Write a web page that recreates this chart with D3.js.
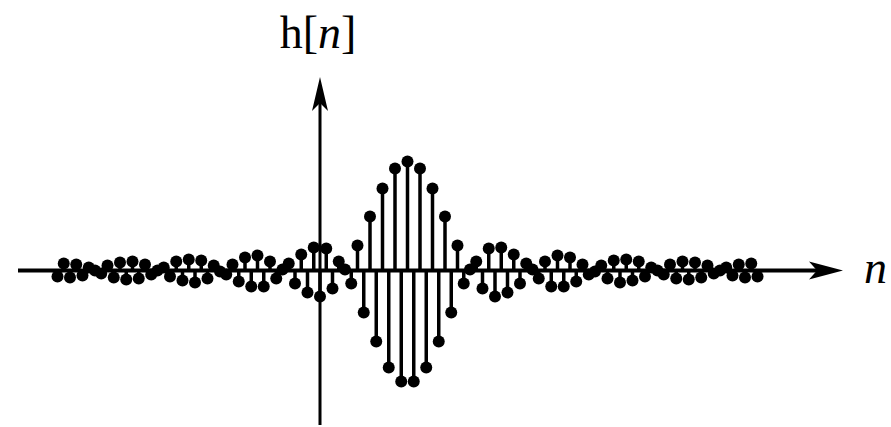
<!DOCTYPE html>
<html>
<head>
<meta charset="utf-8">
<script src="https://cdn.jsdelivr.net/npm/d3@7"></script>
<style>
  body { margin: 0; background: #fff; }
  svg { display: block; }
</style>
</head>
<body>
<div id="chart"></div>
<script>
// sample index of the first stem; the plot runs from n = -42 to n = 70
const firstN = -42;
// h[n], left to right
const hValues = [
  -0.06, 0.07, -0.07, 0.06, -0.05, 0.03, 0.00, -0.03, 0.05, -0.07,
  0.08, -0.09, 0.09, -0.08, 0.06, -0.04, 0.00, 0.03, -0.06, 0.09,
  -0.10, 0.11, -0.12, 0.10, -0.08, 0.05, -0.01, -0.04, 0.06, -0.11,
  0.13, -0.16, 0.15, -0.16, 0.09, -0.08, 0.01, 0.07, -0.13, 0.16,
  -0.22, 0.23, -0.26, 0.22, -0.18, 0.09, 0.01, -0.13, 0.25, -0.42,
  0.54, -0.71, 0.82, -0.97, 1.02, -1.11, 1.09, -1.11, 1.02, -0.97,
  0.82, -0.71, 0.54, -0.42, 0.25, -0.13, 0.01, 0.09, -0.18, 0.22,
  -0.26, 0.23, -0.22, 0.16, -0.13, 0.07, 0.01, -0.08, 0.09, -0.16,
  0.15, -0.16, 0.13, -0.11, 0.06, -0.04, -0.01, 0.05, -0.08, 0.10,
  -0.12, 0.11, -0.10, 0.09, -0.06, 0.03, 0.00, -0.04, 0.06, -0.08,
  0.09, -0.09, 0.08, -0.07, 0.05, -0.03, 0.00, 0.03, -0.05, 0.06,
  -0.07, 0.07, -0.06
];
const xLabel = 'n';

const width = 891;
const height = 427;

const samples = hValues.map((h, i) => ({ n: firstN + i, h: h }));
const lastN = firstN + hValues.length - 1;

// 6.25px per sample, n = 0 sits on the vertical axis
let x = d3.scaleLinear()
    .domain([firstN, lastN])
    .range([320 + firstN * 6.25, 320 + lastN * 6.25]);

let y = d3.scaleLinear()
    .domain([-1.2, 1.2])
    .range([390.5, 150.5]);

let svg = d3.select('#chart').append('svg')
    .attr('width', width)
    .attr('height', height);

let x0 = x(0);
let y0 = y(0);

// horizontal axis
svg.append('line')
    .attr('x1', 18).attr('x2', 822)
    .attr('y1', y0).attr('y2', y0)
    .attr('stroke', '#000')
    .attr('stroke-width', 4);

svg.append('path')
    .attr('d', `M843,${y0} L809,${y0 - 9} L817,${y0} L809,${y0 + 9} Z`)
    .attr('fill', '#000');

// vertical axis
svg.append('line')
    .attr('x1', x0).attr('x2', x0)
    .attr('y1', 100).attr('y2', 425)
    .attr('stroke', '#000')
    .attr('stroke-width', 3);

svg.append('path')
    .attr('d', `M${x0},77 L${x0 - 8},111 L${x0},103 L${x0 + 8},111 Z`)
    .attr('fill', '#000');

// stems
svg.append('g').selectAll('line').data(samples).enter().append('line')
    .attr('x1', d => x(d.n)).attr('x2', d => x(d.n))
    .attr('y1', y0).attr('y2', d => y(d.h))
    .attr('stroke', '#000')
    .attr('stroke-width', 3.5);

// dots
svg.append('g').selectAll('circle').data(samples).enter().append('circle')
    .attr('cx', d => x(d.n))
    .attr('cy', d => y(d.h))
    .attr('r', 6)
    .attr('fill', '#000');

// labels
let yTitle = svg.append('text')
    .attr('x', x0 - 2)
    .attr('y', 48)
    .attr('text-anchor', 'middle')
    .attr('font-family', '"Liberation Serif", "DejaVu Serif", serif')
    .attr('font-size', 46)
    .attr('fill', '#000');
yTitle.append('tspan').text('h[');
yTitle.append('tspan').attr('font-style', 'italic').text('n');
yTitle.append('tspan').text(']');

svg.append('text')
    .attr('x', 864)
    .attr('y', 283)
    .attr('font-family', '"Liberation Serif", "DejaVu Serif", serif')
    .attr('font-style', 'italic')
    .attr('font-size', 46)
    .attr('fill', '#000')
    .text(xLabel);
</script>
</body>
</html>
